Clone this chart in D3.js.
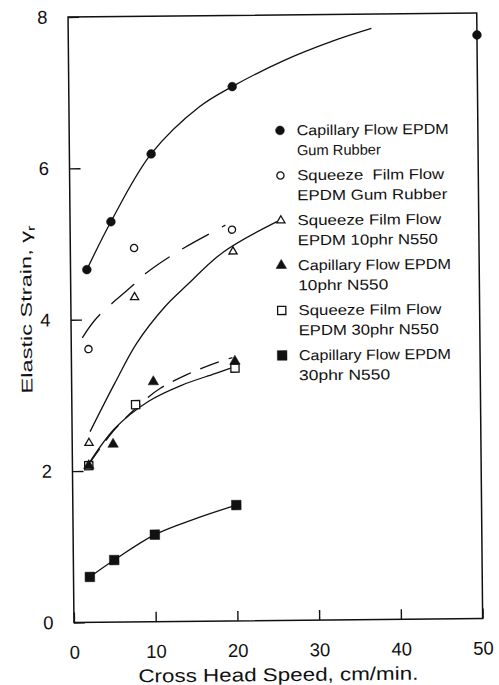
<!DOCTYPE html>
<html>
<head>
<meta charset="utf-8">
<script src="https://cdn.jsdelivr.net/npm/d3@7"></script>
<style>
  html, body { margin: 0; padding: 0; background: #fff; }
  svg { display: block; }
  text { font-family: "Liberation Sans", Arial, sans-serif; fill: #111; text-rendering: geometricPrecision; }
</style>
</head>
<body>
<svg id="chart" width="499" height="685"></svg>
<script>
// Measured points: [cross head speed (cm/min), elastic strain]
const capGum = [[2, 4.66], [5, 5.29], [10, 6.18], [20, 7.06], [50, 7.71]];
const sqGum  = [[2.1, 3.61], [7.8, 4.94], [19.8, 5.17]];
const sq10   = [[2.05, 2.37], [7.8, 4.29], [19.9, 4.88]];
const cap10  = [[2, 2.07], [5, 2.35], [10, 3.17], [20, 3.43]];
const sq30   = [[2, 2.07], [7.8, 2.87], [20, 3.34]];
const cap30  = [[2, 0.60], [5, 0.82], [10, 1.15], [20, 1.53]];

// Hand-fitted trend curves through each set
const capGumFit = [[2, 4.66], [5, 5.29], [10, 6.18], [16, 6.80], [20, 7.06], [26.2, 7.39], [32.4, 7.65], [37.1, 7.81]];
const sqGumFit  = [[1.36, 3.76], [3.14, 4.02], [7.65, 4.45], [9.3, 4.61], [13.2, 4.89], [18.3, 5.19], [19.0, 5.23]];
const sq10Fit   = [[2.2, 2.52], [5.3, 3.16], [8.0, 3.68], [11.5, 4.16], [14.2, 4.44], [18.65, 4.87], [25.3, 5.27]];
const cap10Fit  = [[1.95, 2.08], [5.25, 2.55], [8.95, 2.93], [10.8, 3.08], [14.1, 3.26], [17.1, 3.39], [19.7, 3.48]];
const sq30Fit   = [[2.15, 2.12], [5.25, 2.56], [9.35, 2.91], [13.45, 3.12], [17.55, 3.27], [20.0, 3.36]];
const cap30Fit  = [[2, 0.60], [5, 0.82], [10, 1.15], [15.1, 1.36], [20, 1.53]];

const xTicks = [0, 10, 20, 30, 40, 50];
const yTicks = [0, 2, 4, 6, 8];

const legendLabels = [
  ["Capillary Flow EPDM", "Gum Rubber"],
  ["Squeeze\u00A0 Film Flow", "EPDM Gum Rubber"],
  ["Squeeze Film Flow", "EPDM 10phr N550"],
  ["Capillary Flow EPDM", "10phr N550"],
  ["Squeeze Film Flow", "EPDM 30phr N550"],
  ["Capillary Flow EPDM", "30phr N550"]
];

const xTitle = "Cross Head Speed, cm/min.";
const yTitle = "Elastic Strain, γ";
const yTitleSub = "r";

// ---- layout ----
const L = 71, R = 479.7, T = 15, B = 620.5;
const ink = "#111";
const legendTextWidths = [[152, 84], [147, 150], [143.5, 140], [153, 90], [143, 140], [152, 91]];

const x = d3.scaleLinear().domain([0, 50]).range([L, R]);
const y = d3.scaleLinear().domain([0, 8]).range([B, T]);

const svg = d3.select("#chart");
const root = svg.append("g").attr("transform", "rotate(-0.56 276.6 317.8)");

const series = [
  { pts: capGum, fit: capGumFit, mark: "dot",        dash: null },
  { pts: sqGum,  fit: sqGumFit,  mark: "circle",     dash: "30 15" },
  { pts: sq10,   fit: sq10Fit,   mark: "tri",        dash: null },
  { pts: cap10,  fit: cap10Fit,  mark: "triFill",    dash: "20 10" },
  { pts: sq30,   fit: sq30Fit,   mark: "square",     dash: null },
  { pts: cap30,  fit: cap30Fit,  mark: "squareFill", dash: null }
];

function drawMarker(g, type, cx, cy) {
  let sym, size, filled;
  switch (type) {
    case "dot":        sym = d3.symbolCircle;   size = Math.PI * 4.4 * 4.4;          filled = true;  break;
    case "circle":     sym = d3.symbolCircle;   size = Math.PI * 3.6 * 3.6;          filled = false; break;
    case "tri":        sym = d3.symbolTriangle; size = Math.sqrt(3) / 4 * 8.2 * 8.2; filled = false; break;
    case "triFill":    sym = d3.symbolTriangle; size = Math.sqrt(3) / 4 * 10.5 * 10.5; filled = true; break;
    case "square":     sym = d3.symbolSquare;   size = 8.2 * 8.2;                    filled = false; break;
    case "squareFill": sym = d3.symbolSquare;   size = 9.6 * 9.6;                    filled = true;  break;
  }
  g.append("path")
    .attr("d", d3.symbol(sym, size)())
    .attr("transform", `translate(${cx},${cy})`)
    .attr("fill", filled ? ink : "#fff")
    .attr("stroke", ink)
    .attr("stroke-width", filled ? 0.5 : 1.3);
}

// text stretched horizontally to a set width
function fitText(g, str, px, tx, ty, width, anchor) {
  const t = g.append("text")
    .attr("text-anchor", anchor || "start")
    .style("font-size", px + "px")
    .text(str);
  const k = width / t.node().getComputedTextLength();
  t.attr("transform", `translate(${tx},${ty}) scale(${k},1)`);
  return t;
}

// ---- frame ----
root.append("rect")
  .attr("x", L).attr("y", T).attr("width", R - L).attr("height", B - T)
  .attr("fill", "none").attr("stroke", ink).attr("stroke-width", 1.5);

// ---- axes ----
const xAxis = d3.axisBottom(x).tickValues(xTicks).tickSize(-10).tickPadding(23).tickFormat(d3.format("d"));
const yAxis = d3.axisLeft(y).tickValues(yTicks).tickSize(-11).tickPadding(20.5).tickFormat(d3.format("d"));

const gx = root.append("g").attr("transform", `translate(0,${B})`).call(xAxis);
const gy = root.append("g").attr("transform", `translate(${L},0)`).call(yAxis);
[gx, gy].forEach(g => {
  g.select(".domain").remove();
  g.selectAll(".tick line").attr("stroke", ink).attr("stroke-width", 1.4);
  g.selectAll(".tick text").attr("fill", ink)
    .style("font-family", '"Liberation Sans", Arial, sans-serif').style("font-size", "18.5px");
});

// axis titles
fitText(root, xTitle, 18.5, (L + R) / 2 - 0.5, 681, 280, "middle");

const yt = root.append("text")
  .attr("text-anchor", "middle")
  .style("font-size", "15.5px");
yt.append("tspan").text(yTitle);
yt.append("tspan").attr("dy", 4).style("font-size", "11px").text(yTitleSub);
const ytLen = yt.node().getComputedTextLength();
yt.attr("transform", `translate(31.7,307) rotate(-90) scale(${168 / ytLen},1)`);

// ---- trend curves ----
const line = d3.line()
  .x(d => x(d[0])).y(d => y(d[1]))
  .curve(d3.curveCatmullRom.alpha(0.5));

const curves = root.append("g");
series.forEach(s => {
  curves.append("path")
    .attr("d", line(s.fit))
    .attr("fill", "none")
    .attr("stroke", ink)
    .attr("stroke-width", 1.3)
    .attr("stroke-dasharray", s.dash);
});

// ---- markers (open symbols first, filled ones on top) ----
const marks = root.append("g");
const order = [0, 1, 2, 4, 5, 3];
order.forEach(i => {
  const s = series[i];
  s.pts.forEach(p => drawMarker(marks, s.mark, x(p[0]), y(p[1])));
});

// ---- legend ----
const lg = root.append("g");
legendLabels.forEach((lines, i) => {
  const cy = 130.5 + i * 45;
  drawMarker(lg, series[i].mark, 281.8, cy);
  lines.forEach((t, j) => {
    fitText(lg, t, 14.5, 298.5, cy + 5 + j * 20, legendTextWidths[i][j]);
  });
});
</script>
</body>
</html>
